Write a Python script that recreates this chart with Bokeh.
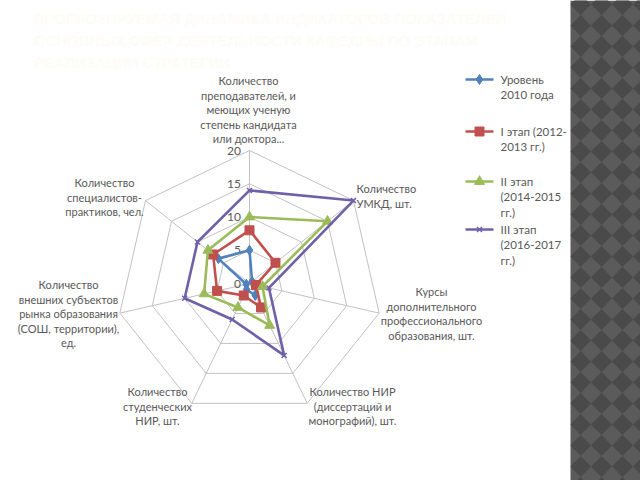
import numpy as np
from bokeh.plotting import figure
from bokeh.models import Range1d
from bokeh.embed import file_html
from bokeh.resources import INLINE
from bokeh.core.properties import value

# ---------------- data ----------------
categories = [
    "Количество\nпреподавателей, и\nмеющих ученую\nстепень кандидата\nили доктора...",
    "Количество\nУМКД, шт.",
    "Курсы\nдополнительного\nпрофессионального\nобразования, шт.",
    "Количество НИР\n(диссертаций и\nмонографий), шт.",
    "Количество\nстуденческих\nНИР, шт.",
    "Количество\nвнешних субъектов\nрынка образования\n(СОШ, территории),\nед.",
    "Количество\nспециалистов-\nпрактиков, чел.",
]
series_names = [
    "Уровень\n2010 года",
    "I этап (2012-\n2013 гг.)",
    "II этап\n(2014-2015\nгг.)",
    "III этап\n(2016-2017\nгг.)",
]
level_2010 = [5, 0.5, 1, 2, 1, 0.5, 6]
stage_1 = [8, 5, 1, 4, 2, 5, 7]
stage_2 = [10, 15, 2, 7, 4, 7, 8]
stage_3 = [14, 20, 3, 12, 6, 10, 10]
ticks = [0, 5, 10, 15, 20]
title_lines = [
    "ПРОГНОЗИРУЕМАЯ ДИНАМИКА ИНДИКАТОРОВ ПОКАЗАТЕЛЕЙ",
    "ОСНОВНЫХ СФЕР ДЕЯТЕЛЬНОСТИ КАФЕДРЫ ПО ЭТАПАМ",
    "РЕАЛИЗАЦИИ СТРАТЕГИИ",
]

# ---------------- layout helpers ----------------
W, H = 640, 480
K = 6.65            # px per unit
CX, CY = 249, 283   # px of radar centre


def P(X, Y):
    return (X - CX) / K, (CY - Y) / K


p = figure(width=W, height=H, output_backend="svg", toolbar_location=None,
           x_range=Range1d((0 - CX) / K, (W - CX) / K),
           y_range=Range1d((CY - H) / K, (CY - 0) / K),
           x_axis_type=None, y_axis_type=None, min_border=0)
p.grid.visible = False
p.outline_line_color = None
p.background_fill_color = "white"
p.border_fill_color = "white"

FONT = value("Lato")
GRAY_TXT = "#595959"

n = len(categories)
theta = np.pi / 2 - np.arange(n) * 2 * np.pi / n
cos_t, sin_t = np.cos(theta), np.sin(theta)

# grid rings and spokes
rmax = ticks[-1]
ring_xs, ring_ys = [], []
for t in ticks[1:]:
    ring_xs.append(list(np.append(t * cos_t, t * cos_t[0])))
    ring_ys.append(list(np.append(t * sin_t, t * sin_t[0])))
for c, s in zip(cos_t, sin_t):
    ring_xs.append([0, rmax * c])
    ring_ys.append([0, rmax * s])
p.multi_line(ring_xs, ring_ys, line_color="#c2c2c2", line_width=1)

# tick labels
p.text(x=[-1.3] * len(ticks), y=ticks, text=[str(t) for t in ticks],
       text_align="right", text_baseline="middle", text_font=FONT,
       text_font_size="12px", text_color=GRAY_TXT)

# category labels
anchors = [(248, 80, "center"), (356, 188, "left"), (431, 291, "center"),
           (352, 391, "center"), (157, 391, "center"), (68, 284, "center"),
           (104, 182, "center")]
for cat, (ax, ay, al) in zip(categories, anchors):
    lines = cat.split("\n")
    xs, ys = [], []
    for i, _ in enumerate(lines):
        x, y = P(ax, ay + i * 14.6)
        xs.append(x)
        ys.append(y)
    p.text(x=xs, y=ys, text=lines, text_align=al, text_baseline="middle",
           text_font=FONT, text_font_size="11px", text_color=GRAY_TXT)

# series
colors = ["#4F81BD", "#C0504D", "#9BBB59", "#7060A8"]
markers = ["diamond", "square", "triangle", "x"]
msizes = [10, 9, 10, 7]
all_series = [level_2010, stage_1, stage_2, stage_3]
for vals, col, mk, ms in zip(all_series, colors, markers, msizes):
    v = np.array(vals, dtype=float)
    xs = v * cos_t
    ys = v * sin_t
    p.line(list(np.append(xs, xs[0])), list(np.append(ys, ys[0])),
           line_color=col, line_width=2.6)
    p.scatter(x=list(xs), y=list(ys), marker=mk, size=ms, fill_color=col,
              line_color=col, line_width=1.5 if mk == "x" else 1)

# legend
leg_y = [79, 131, 181, 229]
for name, col, mk, ms, ly in zip(series_names, colors, markers, msizes, leg_y):
    x0, y0 = P(465, ly)
    x1, _ = P(493, ly)
    xm, _ = P(479, ly)
    p.line([x0, x1], [y0, y0], line_color=col, line_width=2.6)
    p.scatter(x=[xm], y=[y0], marker=mk, size=ms, fill_color=col,
              line_color=col, line_width=1.5 if mk == "x" else 1)
    lines = name.split("\n")
    xs, ys = [], []
    for i, _ in enumerate(lines):
        x, y = P(500, ly + i * 15.3)
        xs.append(x)
        ys.append(y)
    p.text(x=xs, y=ys, text=lines, text_align="left", text_baseline="middle",
           text_font=FONT, text_font_size="11.5px", text_color=GRAY_TXT)

# decorative right strip with diamond pattern
sx0, sx1 = P(570, 0)[0], P(640, 0)[0]
sy0, sy1 = P(0, 0)[1], P(0, 480)[1]
p.quad(left=sx0, right=sx1, top=sy0, bottom=sy1, fill_color="#5b5b5b",
       line_color=None)
d = 21.0
h = d / 2
dx_list, dy_list = [], []
for i in range(-1, 5):
    for j in range(-1, 25):
        cxp = 580 + i * d
        cyp = 4 + j * d
        pts = [(cxp, cyp - h), (cxp + h, cyp), (cxp, cyp + h), (cxp - h, cyp)]
        conv = [P(a, b) for a, b in pts]
        xs = [max(c[0], sx0) for c in conv]
        ys = [c[1] for c in conv]
        dx_list.append(xs)
        dy_list.append(ys)
p.patches(dx_list, dy_list, fill_color="#4a4a4a", line_color=None)

# faint title
for i, t in enumerate(title_lines):
    x, y = P(33, 18 + i * 22)
    p.text(x=[x], y=[y], text=[t], text_align="left", text_baseline="middle",
           text_font=value("Liberation Sans"), text_font_style="bold",
           text_font_size="15px", text_color="#fdfcf6")

open("out.html", "w").write(file_html(p, INLINE))
